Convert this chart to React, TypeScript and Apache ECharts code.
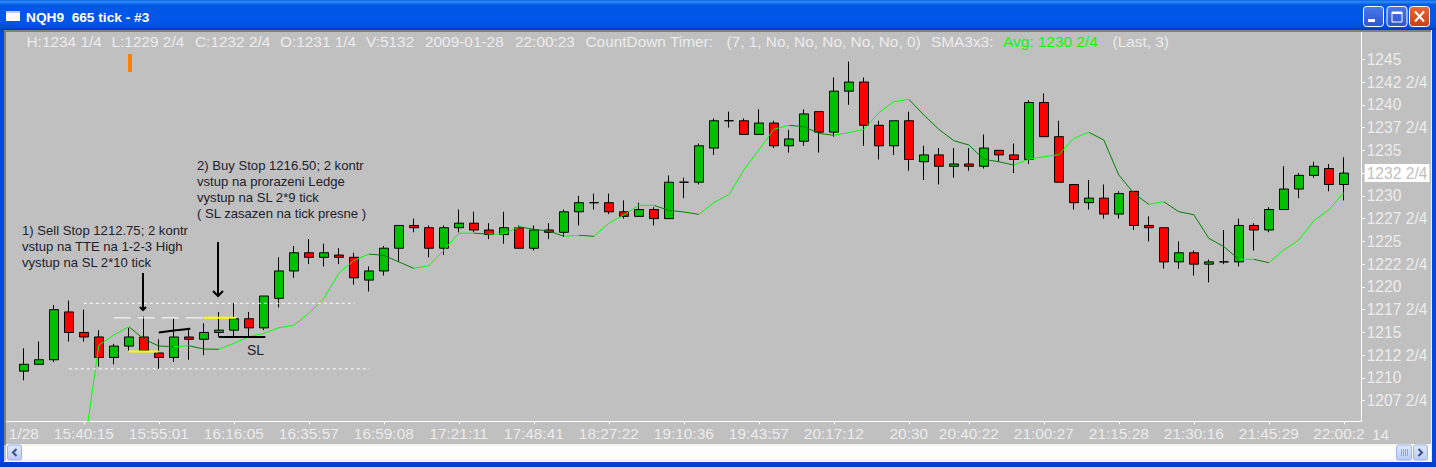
import React, { useEffect, useRef } from "react";
import * as echarts from "echarts";

const opens = [1210.75,1211.5,1212,1217.25,1215,1214.5,1212.25,1213.5,1214.5,1212.75,1212.25,1214.5,1214.25,1215,1215.25,1216.5,1215.5,1218.75,1221.75,1223.75,1223.25,1223.5,1223.25,1220.75,1221.75,1224.25,1226.75,1226.5,1224.25,1226.5,1227,1226.25,1225.75,1226.5,1224.25,1226.25,1226,1228.25,1229.25,1229.25,1228.25,1227.75,1228.5,1227.5,1231.5,1231.5,1235.25,1238.25,1238.25,1236.75,1238,1235.5,1236,1239.25,1237,1241.5,1242.5,1237.75,1235.5,1238.25,1233.75,1234.5,1233.25,1233.5,1233.25,1235,1234.5,1234,1240.25,1236.5,1231.25,1229.25,1229.75,1228,1230.5,1226.75,1226.5,1222.75,1223.75,1222.5,1222.75,1222.75,1226.75,1226.25,1228.5,1230.75,1232.25,1233,1231.25];
const closes = [1211.5,1212,1217.5,1215,1214.5,1212.25,1213.5,1214.5,1213,1212.25,1214.5,1214.25,1215,1215.25,1216.5,1215.5,1219,1221.75,1223.75,1223.25,1223.75,1223.25,1221,1221.75,1224.25,1226.75,1226.5,1224.25,1226.5,1227,1226.25,1225.75,1226.5,1224.25,1226.25,1226,1228.25,1229.25,1229.25,1228.25,1227.75,1228.5,1227.5,1231.5,1231.5,1235.5,1238.25,1238.25,1236.75,1238,1235.5,1236.25,1239,1237,1241.5,1242.5,1237.75,1235.5,1238.25,1234,1234.5,1233.25,1233.5,1233.25,1235.25,1234.5,1234,1240.25,1236.5,1231.5,1229.25,1229.75,1228,1230.25,1226.75,1226.5,1222.75,1223.75,1222.5,1222.75,1222.75,1226.75,1226.25,1228.5,1230.75,1232.25,1233.25,1231.25,1232.5];
const highs = [1213.25,1214,1218,1218.5,1217.5,1215.25,1213.75,1215.5,1216.75,1214.25,1216.5,1215.5,1216,1217.25,1218.25,1217.25,1219,1223.25,1224.5,1225.25,1224.75,1224.25,1223.75,1222.25,1224.5,1226.75,1227.5,1226.75,1226.75,1228.5,1228.25,1227,1228.25,1226.75,1226.75,1227,1228.5,1230,1230.25,1230.25,1229.5,1229.25,1228.75,1232.25,1232,1235.75,1238.5,1239.25,1238.5,1239.5,1238.25,1237.25,1239.5,1239.25,1243,1244.75,1243,1238.25,1238.25,1239.25,1235.5,1235.25,1235.25,1235.25,1236.75,1235,1235.75,1240.5,1241.25,1238.25,1231.25,1231.75,1231.25,1230.5,1230.5,1227.75,1226.5,1225,1224,1223,1226.25,1227.5,1227,1228.75,1233.25,1232.5,1233.75,1233.5,1234.25];
const lows = [1209.75,1211.5,1211.75,1214,1214,1211.25,1211.5,1213,1213,1211,1211.75,1212,1212.5,1214.5,1214.5,1214.5,1215.25,1217.75,1221,1222.5,1222.25,1222.5,1220.25,1219.5,1221.25,1222.75,1226,1223.25,1223.5,1226,1226,1225.25,1224.75,1224.25,1224,1225.25,1225.5,1226.75,1228.5,1228,1227.5,1227.75,1226.75,1227.5,1229.75,1231.25,1234.5,1237.5,1236.75,1236.75,1235.25,1234.75,1235.5,1234.75,1236.5,1240,1235.5,1234,1234.5,1232.75,1231.75,1231.25,1232,1232.75,1233,1233.75,1232.5,1233.5,1236.5,1231.5,1228.5,1228.5,1227.5,1227.5,1226.25,1225,1222,1222,1221.25,1220.5,1222.5,1222.25,1224,1226,1228.5,1229.75,1232,1230.5,1229.5];

const smaStart = 4;
const smaValues = [1201.9,1213.62,1214.72,1215.63,1214.28,1213.51,1213.43,1213.54,1213.18,1213.15,1213.8,1214.53,1214.9,1215.52,1215.78,1217.1,1218.72,1221.5,1222.9,1223.6,1223.47,1222.75,1222.04,1222.33,1224.05,1225.9,1225.9,1225.8,1225.81,1226.61,1226.33,1226.14,1225.56,1225.67,1225.56,1226.99,1227.9,1228.96,1228.96,1228.41,1228.23,1227.97,1229.25,1230.13,1232.84,1235.04,1237.31,1237.75,1237.6,1236.87,1236.65,1236.94,1237.31,1239.13,1240.34,1240.61,1238.88,1237.31,1236.06,1235.59,1234.02,1233.75,1233.39,1234.02,1234.3,1234.52,1236.32,1236.98,1236.14,1232.29,1230.28,1229.07,1229.36,1228.26,1227.93,1225.34,1224.42,1223.03,1223.03,1222.66,1224.05,1225.15,1227.27,1228.45,1230.35];

const priceTicks = [1207.5,1210,1212.5,1215,1217.5,1220,1222.5,1225,1227.5,1230,1232.5,1235,1237.5,1240,1242.5,1245];
const lastPrice = 1232.5;

const timeTickIndexes = [4,9,14,19,24,29,34,39,44,49,54,59,63,68,73,78,83,88];
const timeLabelIndexes = [0,4,9,14,19,24,29,34,39,44,49,54,59,63,68,73,78,83,87.67];
const timeLabels = ["1/28","15:40:15","15:55:01","16:16:05","16:35:57","16:59:08","17:21:11","17:48:41","18:27:22","19:10:36","19:43:57","20:17:12","20:30","20:40:22","21:00:27","21:15:28","21:30:16","21:45:29","22:00:2"];

const rangeTop = [[4,1218.2],[22.05,1218.2]];
const rangeBottom = [[3,1211],[23.05,1211]];
const entryLevel = [[6,1216.6],[12,1216.6]];
const buyStop = [[12,1216.6],[14.15,1216.6]];
const sellStop = [[7,1212.9],[9,1212.9]];
const trendTop = [[9,1215],[10,1215.2],[11.1,1215.4]];
const stopLoss = [[13,1214.5],[16.1,1214.5]];

const headerParts: [string, number, string][] = [
  ["H:1234 1/4",26.5,"#ececec"],["L:1229 2/4",111.5,"#ececec"],["C:1232 2/4",195,"#ececec"],["O:1231 1/4",280,"#ececec"],["V:5132",366,"#ececec"],["2009-01-28",425,"#ececec"],["22:00:23",515,"#ececec"],["CountDown Timer:",585.5,"#ececec"],["(7, 1, No, No, No, No, No, 0)",726.5,"#ececec"],["SMA3x3:",931,"#ececec"],["Avg: 1230 2/4",1003,"#00ff00"],["(Last, 3)",1112.5,"#ececec"],
];
const note1 = ["1) Sell Stop 1212.75; 2 kontr","vstup na TTE na 1-2-3 High","vystup na SL 2*10 tick"];
const note2 = ["2) Buy Stop 1216.50; 2 kontr","vstup na prorazeni Ledge","vystup na SL 2*9 tick","( SL zasazen na tick presne )"];

const FONT = "'Liberation Sans', Arial, sans-serif";

function levelSeries(data: number[][], color: string, width: number, type: any = "solid") {
  return { type: "line", data, symbol: "none", silent: true, z: 5, lineStyle: { color, width, type } };
}

function buildGraphic(): any[] {
  const g: any[] = [];
  const rect = (x: number, y: number, w: number, h: number, fill: any, extra: any = {}) =>
    g.push({ type: "rect", z: 100, silent: true, shape: { x, y, width: w, height: h, r: extra.r || 0 }, style: { fill, stroke: extra.stroke, lineWidth: extra.lw } });
  const vgrad = (stops: [number, string][]) => new echarts.graphic.LinearGradient(0, 0, 0, 1, stops.map(([offset, color]) => ({ offset, color })));

  // window frame
  rect(0, 0, 1436, 30, vgrad([[0,"#0a63e8"],[0.06,"#2f8cf5"],[0.16,"#0058e6"],[0.75,"#0056e8"],[0.92,"#0049dc"],[1,"#0038c0"]]));
  rect(0, 30, 1436, 2, "#808080");
  rect(0, 30, 4, 437, "#0048e0");
  rect(4, 30, 2, 415, "#808080");
  rect(1431, 30, 1, 431, "#f0f0ea");
  rect(1432, 30, 4, 437, "#0048e0");
  rect(0, 462, 1436, 5, "#0040d0");
  rect(6, 444, 1425, 17, vgrad([[0,"#f4f3ec"],[0.2,"#fdfdfa"],[0.85,"#fdfdfa"],[1,"#eeede5"]]));
  rect(4, 461, 1428, 1, "#ffffff");

  // scroll buttons
  const btn = (x: number, w: number) => rect(x, 445, w, 15, vgrad([[0,"#dfe9fb"],[1,"#b8ccf2"]]), { stroke: "#9db5e6", lw: 1, r: 2 });
  btn(7.5, 14); btn(1396.5, 15); btn(1413.5, 14);
  g.push({ type: "polyline", z: 101, silent: true, shape: { points: [[16.5,449],[13,452.5],[16.5,456]] }, style: { stroke: "#3a4d86", lineWidth: 2, fill: "none" } });
  g.push({ type: "polyline", z: 101, silent: true, shape: { points: [[1418.5,449],[1422,452.5],[1418.5,456]] }, style: { stroke: "#3a4d86", lineWidth: 2, fill: "none" } });
  [1401, 1403, 1405, 1407].forEach((x) => rect(x, 449, 1, 7, "#8ea6dc"));

  // icon and title
  rect(6, 11, 14, 10, "#ffffff");
  rect(6, 11, 14, 2, "#b8ccf2");
  g.push({ type: "text", z: 102, silent: true, x: 26, y: 17.5, style: { text: "NQH9  665 tick - #3", fill: "#ffffff", font: `bold 13.7px ${FONT}`, textVerticalAlign: "middle" } });

  // window buttons
  const winBtn = (x: number, w: number, a: string, b: string) =>
    rect(x, 6.5, w, 20, vgrad([[0, a],[1, b]]), { stroke: "#ffffff", lw: 1, r: 3 });
  winBtn(1363.5, 20, "#4a78ea", "#2f55cf");
  winBtn(1387, 20, "#4a78ea", "#2f55cf");
  winBtn(1409.5, 20, "#e8663a", "#c8401a");
  rect(1368, 19, 7, 3, "#ffffff");
  rect(1392, 12, 10, 10, "none", { stroke: "#ffffff", lw: 1 });
  rect(1392, 12, 10, 2, "#ffffff");
  g.push({ type: "line", z: 101, silent: true, shape: { x1: 1415, y1: 11.5, x2: 1424, y2: 21.5 }, style: { stroke: "#ffffff", lineWidth: 2 } });
  g.push({ type: "line", z: 101, silent: true, shape: { x1: 1424, y1: 11.5, x2: 1415, y2: 21.5 }, style: { stroke: "#ffffff", lineWidth: 2 } });

  // header texts
  headerParts.forEach(([text, x, fill]) =>
    g.push({ type: "text", z: 50, silent: true, x, y: 41.5, style: { text, fill, font: `15.4px ${FONT}`, textVerticalAlign: "middle" } }));

  // orange marker
  rect(128, 54, 4, 18, "#ff8000");

  // notes
  note1.forEach((text, i) =>
    g.push({ type: "text", z: 50, silent: true, x: 22, y: 230 + i * 16, style: { text, fill: "#20202c", font: `13.1px ${FONT}`, textVerticalAlign: "middle" } }));
  note2.forEach((text, i) =>
    g.push({ type: "text", z: 50, silent: true, x: 197, y: 165 + i * 16, style: { text, fill: "#20202c", font: `13.1px ${FONT}`, textVerticalAlign: "middle" } }));
  g.push({ type: "text", z: 50, silent: true, x: 247, y: 350, style: { text: "SL", fill: "#20202c", font: `14px ${FONT}`, textVerticalAlign: "middle" } });
  g.push({ type: "text", z: 50, silent: true, x: 1372, y: 434.5, style: { text: "14", fill: "#ececec", font: `15.4px ${FONT}`, textVerticalAlign: "middle" } });

  // arrows
  const arrow = (x: number, y1: number, y2: number, s: number) => {
    g.push({ type: "line", z: 50, silent: true, shape: { x1: x, y1, x2: x, y2 }, style: { stroke: "#000", lineWidth: 2 } });
    g.push({ type: "polyline", z: 50, silent: true, shape: { points: [[x - s, y2 - s],[x, y2],[x + s, y2 - s]] }, style: { stroke: "#000", lineWidth: 2, fill: "none" } });
  };
  arrow(143, 273, 310, 3);
  arrow(218, 242, 296, 5);
  return g;
}

export default function App() {
  const ref = useRef<HTMLDivElement>(null);
  useEffect(() => {
    const chart = echarts.init(ref.current!, undefined, { renderer: "svg" });
    const candles = opens.map((o, i) => [i, o, closes[i], lows[i], highs[i]]);
    const sma = smaValues.map((v, i) => [i + smaStart, v]);
    const pieces = smaValues.slice(1).map((v, i) => ({
      gte: i + smaStart,
      lt: i + smaStart + 1,
      color: v >= smaValues[i] ? "#00ff00" : "#008000",
    }));
    pieces[pieces.length - 1] = { ...pieces[pieces.length - 1], lt: 100 } as any;
    chart.setOption({
      animation: false,
      backgroundColor: "#c0c0c0",
      textStyle: { fontFamily: FONT },
      grid: { left: 6, top: 31.8, right: 74.3, bottom: 45.7, containLabel: false },
      xAxis: {
        type: "value",
        min: -1.187,
        max: 89.193,
        splitLine: { show: false },
        axisLine: { onZero: false, lineStyle: { color: "#ffffff", width: 1 } },
        axisTick: { show: true, length: 3, customValues: timeTickIndexes, lineStyle: { color: "#ffffff" } },
        axisLabel: {
          customValues: timeLabelIndexes,
          hideOverlap: false,
          margin: 5,
          color: "#ececec",
          fontSize: 15.4,
          fontFamily: FONT,
          formatter: (v: number) => timeLabels[timeLabelIndexes.indexOf(v)] ?? "",
        },
      },
      yAxis: {
        type: "value",
        position: "right",
        min: 1205.24,
        max: 1248.02,
        splitLine: { show: false },
        axisLine: { show: true, onZero: false, lineStyle: { color: "#ffffff", width: 1 } },
        axisTick: { show: true, length: 3, customValues: priceTicks, lineStyle: { color: "#ffffff" } },
        axisLabel: {
          customValues: priceTicks,
          hideOverlap: false,
          margin: 3,
          color: "#ececec",
          fontSize: 15.6,
          fontFamily: FONT,
          formatter: (v: number) => {
            const whole = Math.floor(v);
            const s = v === whole ? `${whole}` : `${whole} 2/4`;
            return v === lastPrice ? `{last|${s}}` : `{tick|${s}}`;
          },
          rich: {
            tick: { color: "#ececec", fontSize: 15.6, fontFamily: FONT, padding: [0, 0, 0, 2] },
            last: { color: "#c0c0c0", backgroundColor: "#ffffff", fontSize: 15.6, fontFamily: FONT, padding: [1, 2, 1, 2] },
          },
        },
      },
      visualMap: { show: false, type: "piecewise", seriesIndex: 1, dimension: 0, pieces },
      series: [
        {
          type: "candlestick",
          data: candles,
          barWidth: 9.4,
          silent: true,
          itemStyle: {
            color: "#00c000",
            color0: "#ff0000",
            borderColor: "#000000",
            borderColor0: "#000000",
            borderColorDoji: "#000000",
            borderWidth: 1,
          },
        },
        { type: "line", data: sma, symbol: "none", silent: true, z: 4, lineStyle: { width: 1 } },
        levelSeries(rangeTop, "#ffffff", 1, [3, 3]),
        levelSeries(rangeBottom, "#ffffff", 1, [3, 3]),
        levelSeries(entryLevel, "#ffffff", 1, [17, 7]),
        levelSeries(buyStop, "#ffff00", 2),
        levelSeries(sellStop, "#ffff00", 2),
        levelSeries(trendTop, "#000000", 2),
        levelSeries(stopLoss, "#000000", 2),
      ],
      graphic: { elements: buildGraphic() },
    });
    return () => chart.dispose();
  }, []);
  return <div ref={ref} style={{ position: "fixed", left: 0, top: 0, width: 1436, height: 467 }} />;
}
